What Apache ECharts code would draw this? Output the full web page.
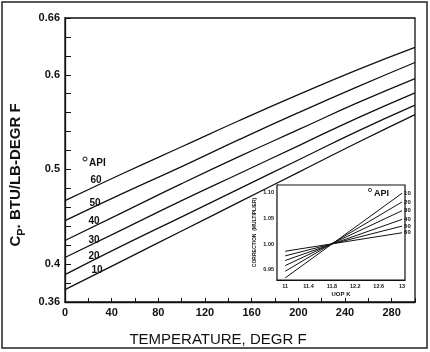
<!DOCTYPE html>
<html>
<head>
<meta charset="utf-8">
<script src="https://cdn.jsdelivr.net/npm/echarts@6/dist/echarts.min.js"></script>
<style>
  html, body { margin: 0; padding: 0; background: #fff; }
  #main { width: 430px; height: 352px; }
</style>
</head>
<body>
<div id="main"></div>
<script>
// main chart: Cp vs temperature, one line per API gravity
var temps = [0, 50, 100, 150, 200, 250, 300];
var api10 = [0.373, 0.404, 0.435, 0.466, 0.497, 0.528, 0.558];
var api20 = [0.389, 0.420, 0.450, 0.480, 0.510, 0.540, 0.568];
var api30 = [0.407, 0.437, 0.467, 0.496, 0.525, 0.554, 0.581];
var api40 = [0.425, 0.455, 0.485, 0.514, 0.542, 0.570, 0.596];
var api50 = [0.446, 0.475, 0.503, 0.532, 0.560, 0.587, 0.613];
var api60 = [0.467, 0.496, 0.524, 0.552, 0.579, 0.605, 0.629];

var xTickLabels = [0, 40, 80, 120, 160, 200, 240, 280];
var yTickLabels = [0.36, 0.4, 0.5, 0.6, 0.66];

// inset: correction multiplier vs UOP K
var uopK = [11, 13];
var corr10 = [0.934, 1.099];
var corr20 = [0.947, 1.082];
var corr30 = [0.958, 1.065];
var corr40 = [0.968, 1.048];
var corr50 = [0.977, 1.035];
var corr60 = [0.986, 1.022];
var insetXLabels = [11, 11.4, 11.8, 12.2, 12.6, 13];
var insetYLabels = [0.95, 1.00, 1.05, 1.10];

var mainLines = [
  ['10', api10], ['20', api20], ['30', api30],
  ['40', api40], ['50', api50], ['60', api60]
];
var insetLines = [
  ['10', corr10], ['20', corr20], ['30', corr30],
  ['40', corr40], ['50', corr50], ['60', corr60]
];

var font = 'Liberation Sans';
var ink = '#111';

function ticks(min, max, step) {
  var out = [];
  for (var v = min; v <= max + step / 2; v += step) out.push(+v.toFixed(4));
  return out;
}

var series = [];
mainLines.forEach(function (l) {
  series.push({
    name: 'API ' + l[0],
    type: 'line',
    xAxisIndex: 0,
    yAxisIndex: 0,
    data: temps.map(function (t, i) { return [t, l[1][i]]; }),
    smooth: true,
    symbol: 'none',
    silent: true,
    lineStyle: { color: ink, width: 1.3 }
  });
});
insetLines.forEach(function (l) {
  series.push({
    name: l[0],
    type: 'line',
    xAxisIndex: 1,
    yAxisIndex: 1,
    data: uopK.map(function (k, i) { return [k, l[1][i]]; }),
    symbol: 'none',
    silent: true,
    z: 5,
    lineStyle: { color: ink, width: 1 },
    endLabel: {
      show: true,
      formatter: '{a}',
      distance: 2,
      fontSize: 6,
      fontWeight: 'bold',
      fontFamily: font,
      color: ink
    }
  });
});

var option = {
  backgroundColor: '#fff',
  animation: false,
  grid: [
    { left: 65, right: 15, top: 18, bottom: 47, show: true, borderColor: ink, borderWidth: 1.3, backgroundColor: 'transparent' },
    { left: 277, top: 185, width: 128, height: 95, show: true, borderColor: ink, borderWidth: 1.2, backgroundColor: '#fff', z: 4 }
  ],
  xAxis: [
    {
      type: 'value',
      min: 0, max: 300, interval: 20,
      axisLine: { lineStyle: { color: ink, width: 1.3 } },
      axisTick: { inside: true, length: 4, customValues: ticks(0, 300, 20), lineStyle: { color: ink } },
      axisLabel: { customValues: xTickLabels, color: ink, fontSize: 11, fontWeight: 'bold', fontFamily: font, margin: 5 },
      splitLine: { show: false },
      name: 'TEMPERATURE, DEGR F',
      nameLocation: 'middle',
      nameGap: 30,
      nameTextStyle: { color: ink, fontSize: 15, fontFamily: font, padding: [0, 44, 0, 0] }
    },
    {
      type: 'value',
      gridIndex: 1,
      min: 10.86, max: 13.05,
      axisLine: { lineStyle: { color: ink, width: 1.2 } },
      axisTick: { inside: true, length: 2, customValues: insetXLabels, lineStyle: { color: ink } },
      axisLabel: { customValues: insetXLabels, color: ink, fontSize: 5.5, fontWeight: 'bold', fontFamily: font, margin: 3 },
      splitLine: { show: false },
      name: 'UOP K',
      nameLocation: 'middle',
      nameGap: 11,
      nameTextStyle: { color: ink, fontSize: 6, fontWeight: 'bold', fontFamily: font }
    }
  ],
  yAxis: [
    {
      type: 'value',
      min: 0.36, max: 0.66, interval: 0.02,
      axisLine: { lineStyle: { color: ink, width: 1.3 } },
      axisTick: { inside: true, length: 6, customValues: ticks(0.36, 0.66, 0.02), lineStyle: { color: ink } },
      axisLabel: { customValues: yTickLabels, color: ink, fontSize: 11, fontWeight: 'bold', fontFamily: font, margin: 5 },
      splitLine: { show: false },
      name: '{c|C}{p|P}{c|. BTU/LB-DEGR F}',
      nameLocation: 'middle',
      nameRotate: 90,
      nameGap: 38,
      nameTextStyle: {
        padding: [0, 30, 0, 0],
        rich: {
          c: { fontSize: 15, fontWeight: 'bold', fontFamily: font, color: ink, verticalAlign: 'bottom' },
          p: { fontSize: 11, fontWeight: 'bold', fontFamily: font, color: ink, verticalAlign: 'bottom', padding: [0, 0, -4, 0] }
        }
      }
    },
    {
      type: 'value',
      gridIndex: 1,
      min: 0.93, max: 1.115,
      axisLine: { lineStyle: { color: ink, width: 1.2 } },
      axisTick: { inside: true, length: 2, customValues: insetYLabels, lineStyle: { color: ink } },
      axisLabel: {
        customValues: insetYLabels, color: ink, fontSize: 5.5, fontWeight: 'bold', fontFamily: font, margin: 3,
        formatter: function (v) { return v.toFixed(2); }
      },
      splitLine: { show: false },
      name: 'CORRECTION  (MULTIPLIER)',
      nameLocation: 'middle',
      nameRotate: 90,
      nameGap: 20,
      nameTextStyle: { color: ink, fontSize: 5, fontWeight: 'bold', fontFamily: font }
    }
  ],
  graphic: [
    { type: 'rect', shape: { x: 2, y: 2, width: 425, height: 346 }, style: { fill: 'none', stroke: '#222', lineWidth: 1.5 }, silent: true },
    { type: 'circle', shape: { cx: 85, cy: 159, r: 2 }, style: { fill: 'none', stroke: ink, lineWidth: 1 } },
    { type: 'text', x: 89, y: 163, style: { text: 'API', fill: ink, font: 'bold 10px ' + font, verticalAlign: 'middle' } },
    { type: 'text', x: 96, y: 180, style: { text: '60', fill: ink, font: 'bold 10px ' + font, align: 'center', verticalAlign: 'middle' } },
    { type: 'text', x: 95, y: 203, style: { text: '50', fill: ink, font: 'bold 10px ' + font, align: 'center', verticalAlign: 'middle' } },
    { type: 'text', x: 94, y: 221, style: { text: '40', fill: ink, font: 'bold 10px ' + font, align: 'center', verticalAlign: 'middle' } },
    { type: 'text', x: 94, y: 240, style: { text: '30', fill: ink, font: 'bold 10px ' + font, align: 'center', verticalAlign: 'middle' } },
    { type: 'text', x: 94, y: 256, style: { text: '20', fill: ink, font: 'bold 10px ' + font, align: 'center', verticalAlign: 'middle' } },
    { type: 'text', x: 97, y: 270, style: { text: '10', fill: ink, font: 'bold 10px ' + font, align: 'center', verticalAlign: 'middle' } },
    { type: 'circle', z: 10, shape: { cx: 370, cy: 190, r: 1.6 }, style: { fill: 'none', stroke: ink, lineWidth: 0.8 } },
    { type: 'text', z: 10, x: 374, y: 194, style: { text: 'API', fill: ink, font: 'bold 9px ' + font, verticalAlign: 'middle' } }
  ],
  series: series
};

var chart = echarts.init(document.getElementById('main'));
chart.setOption(option);
</script>
</body>
</html>
